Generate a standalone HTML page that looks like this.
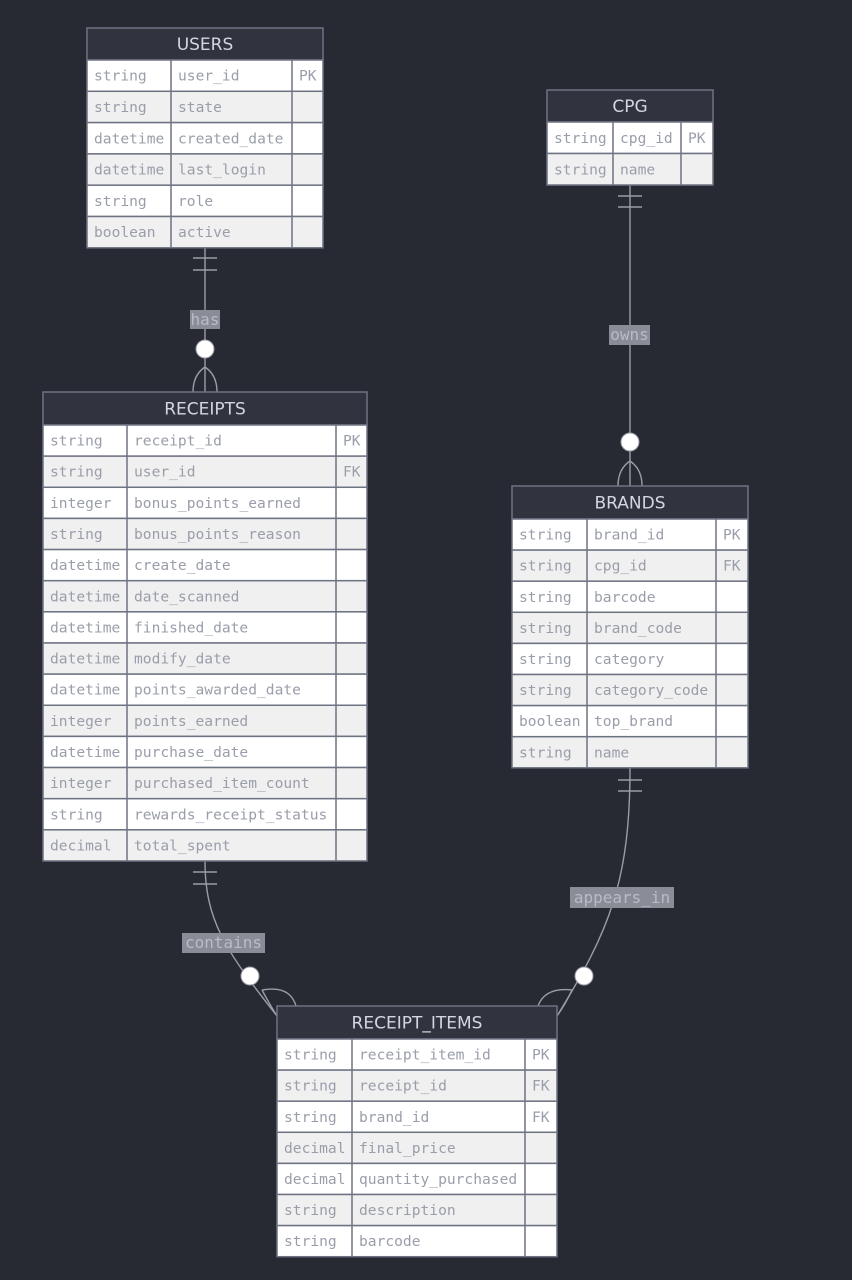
<!DOCTYPE html>
<html><head><meta charset="utf-8"><style>
html,body{margin:0;padding:0;background:#272a33;}
svg{display:block}
.h{font-family:"DejaVu Sans","Liberation Sans",sans-serif;font-size:17px;fill:#d4d7de;text-anchor:middle}
.t{font-family:"DejaVu Sans Mono","Liberation Mono",monospace;font-size:14.6px;fill:#9a9eaa}
.l{font-family:"DejaVu Sans Mono","Liberation Mono",monospace;font-size:16px;fill:#b8bcc6;text-anchor:middle}
.ln{stroke:#9a9da6;stroke-width:1.4;fill:none}
</style></head><body>
<svg width="852" height="1280" viewBox="0 0 852 1280" xmlns="http://www.w3.org/2000/svg">
<rect width="852" height="1280" fill="#272a33"/>
<!-- connectors -->
<g class="ln">
<path d="M205 248 V392"/><path d="M193 258 H217 M193 270 H217"/>
<path d="M205 367 Q193 375 193 392 M205 367 Q217 375 217 392"/>
<path d="M630 185 V486"/><path d="M618 196 H642 M618 207 H642"/>
<path d="M630 461 Q618 469 618 486 M630 461 Q642 469 642 486"/>
<path d="M205 861 C205 920 225 950 277 1016"/><path d="M193 872 H217 M193 884 H217"/>
<path d="M262 990 Q270 1005 277 1016 M262 990 Q290 985 296 1006"/>
<path d="M630 768 C630 880 610 930 557 1016"/><path d="M618 780 H642 M618 791 H642"/>
<path d="M572 990 Q565 1005 557 1016 M572 990 Q545 987 538 1006"/>
</g>
<rect x="190" y="310" width="30" height="19" fill="#8a8d96"/><text class="l" x="205" y="325">has</text>
<rect x="609" y="325" width="41" height="20" fill="#8a8d96"/><text class="l" x="629.5" y="340">owns</text>
<rect x="182" y="933" width="83" height="20" fill="#8a8d96"/><text class="l" x="223.5" y="948">contains</text>
<rect x="570" y="887" width="104" height="21" fill="#8a8d96"/><text class="l" x="622" y="903">appears_in</text>
<g fill="#fff" stroke="#9a9da6" stroke-width="1"><circle cx="205" cy="349" r="9"/><circle cx="630" cy="442" r="9"/><circle cx="250" cy="976" r="9"/><circle cx="584" cy="976" r="9"/></g>
<g id="tables"></g>
</svg>
<script>
const T=[
{n:"USERS",x:87,y:28,c:[87,171,292,323],hh:32,rh:31.3,r:[["string","user_id","PK"],["string","state",""],["datetime","created_date",""],["datetime","last_login",""],["string","role",""],["boolean","active",""]]},
{n:"CPG",x:547,y:90,c:[547,613,681,713],hh:32,rh:31.5,r:[["string","cpg_id","PK"],["string","name",""]]},
{n:"RECEIPTS",x:43,y:392,c:[43,127,336,367],hh:33,rh:31.14,r:[["string","receipt_id","PK"],["string","user_id","FK"],["integer","bonus_points_earned",""],["string","bonus_points_reason",""],["datetime","create_date",""],["datetime","date_scanned",""],["datetime","finished_date",""],["datetime","modify_date",""],["datetime","points_awarded_date",""],["integer","points_earned",""],["datetime","purchase_date",""],["integer","purchased_item_count",""],["string","rewards_receipt_status",""],["decimal","total_spent",""]]},
{n:"BRANDS",x:512,y:486,c:[512,587,716,748],hh:33,rh:31.1,r:[["string","brand_id","PK"],["string","cpg_id","FK"],["string","barcode",""],["string","brand_code",""],["string","category",""],["string","category_code",""],["boolean","top_brand",""],["string","name",""]]},
{n:"RECEIPT_ITEMS",x:277,y:1006,c:[277,352,525,557],hh:33,rh:31.1,r:[["string","receipt_item_id","PK"],["string","receipt_id","FK"],["string","brand_id","FK"],["decimal","final_price",""],["decimal","quantity_purchased",""],["string","description",""],["string","barcode",""]]}];
let s="";
for(const t of T){const c=t.c,w=c[3]-c[0];
s+=`<rect x="${c[0]}" y="${t.y}" width="${w}" height="${t.hh}" fill="#31343e" stroke="#6e7383" stroke-width="1.5"/>`;
s+=`<text class="h" x="${(c[0]+c[3])/2}" y="${t.y+t.hh/2+6}">${t.n}</text>`;
t.r.forEach((r,i)=>{const y=t.y+t.hh+i*t.rh;
s+=`<rect x="${c[0]}" y="${y}" width="${w}" height="${t.rh}" fill="${i%2?'#f0f0f0':'#ffffff'}" stroke="#6e7383" stroke-width="1.5"/>`;
s+=`<line x1="${c[1]}" y1="${y}" x2="${c[1]}" y2="${y+t.rh}" stroke="#6e7383" stroke-width="1.5"/><line x1="${c[2]}" y1="${y}" x2="${c[2]}" y2="${y+t.rh}" stroke="#6e7383" stroke-width="1.5"/>`;
for(let k=0;k<3;k++)s+=`<text class="t" x="${c[k]+7}" y="${y+t.rh/2+5}">${r[k]}</text>`;});}
document.getElementById("tables").innerHTML=s;
</script>
</body></html>
